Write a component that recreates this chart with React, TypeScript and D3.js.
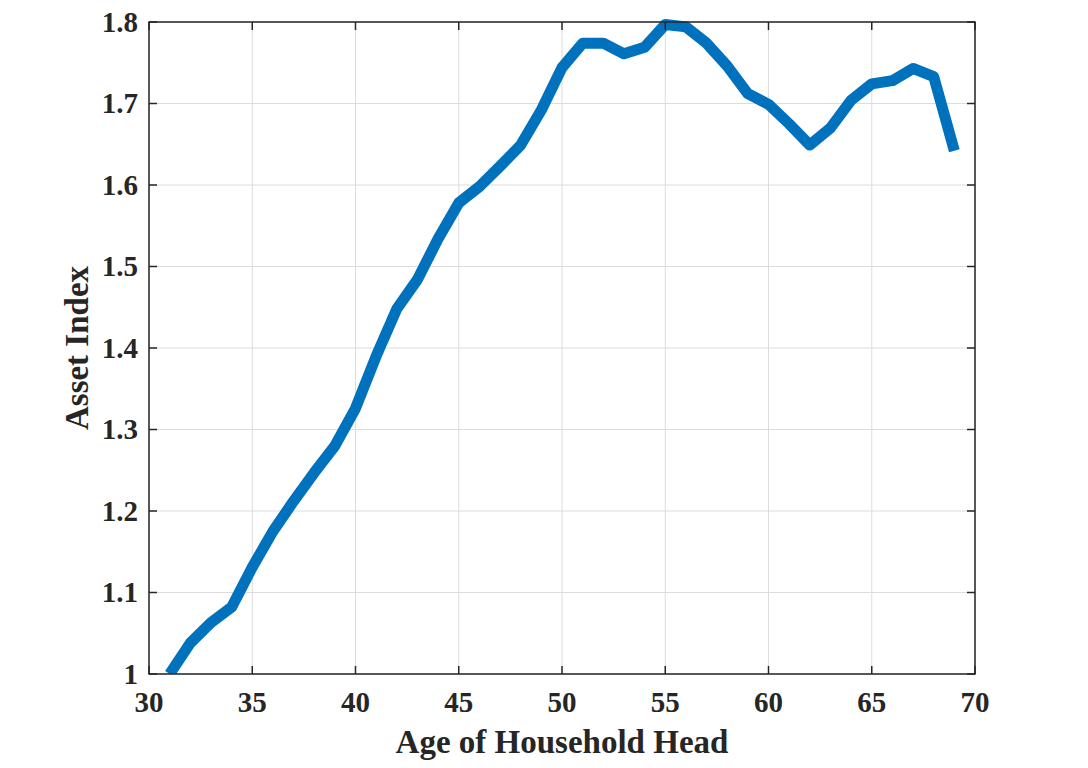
import React from "react";
import * as d3 from "d3";

const ages: number[] = [31,32,33,34,35,36,37,38,39,40,41,42,43,44,45,46,47,48,49,50,51,52,53,54,55,56,57,58,59,60,61,62,63,64,65,66,67,68,69];
const assetIndex: number[] = [1.0,1.038,1.063,1.082,1.131,1.175,1.212,1.247,1.28,1.326,1.39,1.448,1.484,1.534,1.578,1.598,1.623,1.649,1.692,1.744,1.774,1.774,1.761,1.769,1.797,1.794,1.774,1.746,1.712,1.699,1.675,1.649,1.67,1.704,1.724,1.728,1.743,1.733,1.642];
const xTicks: number[] = [30,35,40,45,50,55,60,65,70];
const yTicks: number[] = [1,1.1,1.2,1.3,1.4,1.5,1.6,1.7,1.8];
const xLabel = "Age of Household Head";
const yLabel = "Asset Index";

export default function App() {
  const W = 1088, H = 768;
  const left = 149, right = 975, top = 22, bottom = 674;
  const x = d3.scaleLinear().domain([30, 70]).range([left, right]);
  const y = d3.scaleLinear().domain([1, 1.8]).range([bottom, top]);
  const line = d3.line<number>().x((_, i) => x(ages[i])).y((d) => y(d));
  const font = "'Liberation Serif', 'Times New Roman', serif";
  const tickLen = 8;
  const axisColor = "#262626";
  return (
    <svg width={W} height={H} style={{ position: "absolute", left: 0, top: 0, background: "#fff" }}>
      <defs>
        <clipPath id="plotclip">
          <rect x={left} y={top - 6} width={right - left} height={bottom - top + 6} />
        </clipPath>
      </defs>
      {xTicks.map((t) => (
        <line key={"gx" + t} x1={x(t)} x2={x(t)} y1={top} y2={bottom} stroke="#dcdcdc" strokeWidth={1} />
      ))}
      {yTicks.map((t) => (
        <line key={"gy" + t} x1={left} x2={right} y1={y(t)} y2={y(t)} stroke="#dcdcdc" strokeWidth={1} />
      ))}
      <path d={line(assetIndex) || ""} fill="none" stroke="#0072BD" strokeWidth={11} strokeLinejoin="round" strokeLinecap="butt" clipPath="url(#plotclip)" />
      <rect x={left} y={top} width={right - left} height={bottom - top} fill="none" stroke={axisColor} strokeWidth={1.5} />
      {xTicks.map((t) => (
        <g key={"tx" + t}>
          <line x1={x(t)} x2={x(t)} y1={bottom} y2={bottom - tickLen} stroke={axisColor} strokeWidth={1.5} />
          <line x1={x(t)} x2={x(t)} y1={top} y2={top + tickLen} stroke={axisColor} strokeWidth={1.5} />
          <text x={x(t)} y={712} textAnchor="middle" fontFamily={font} fontWeight="bold" fontSize={29} fill="#262626">{t}</text>
        </g>
      ))}
      {yTicks.map((t) => (
        <g key={"ty" + t}>
          <line x1={left} x2={left + tickLen} y1={y(t)} y2={y(t)} stroke={axisColor} strokeWidth={1.5} />
          <line x1={right} x2={right - tickLen} y1={y(t)} y2={y(t)} stroke={axisColor} strokeWidth={1.5} />
          <text x={138} y={y(t)} dy="0.34em" textAnchor="end" fontFamily={font} fontWeight="bold" fontSize={29} fill="#262626">{d3.format("")(t)}</text>
        </g>
      ))}
      <text x={(left + right) / 2} y={753} textAnchor="middle" fontFamily={font} fontWeight="bold" fontSize={33} fill="#262626">{xLabel}</text>
      <text transform={`translate(88, ${(top + bottom) / 2}) rotate(-90)`} textAnchor="middle" fontFamily={font} fontWeight="bold" fontSize={33} fill="#262626">{yLabel}</text>
    </svg>
  );
}
